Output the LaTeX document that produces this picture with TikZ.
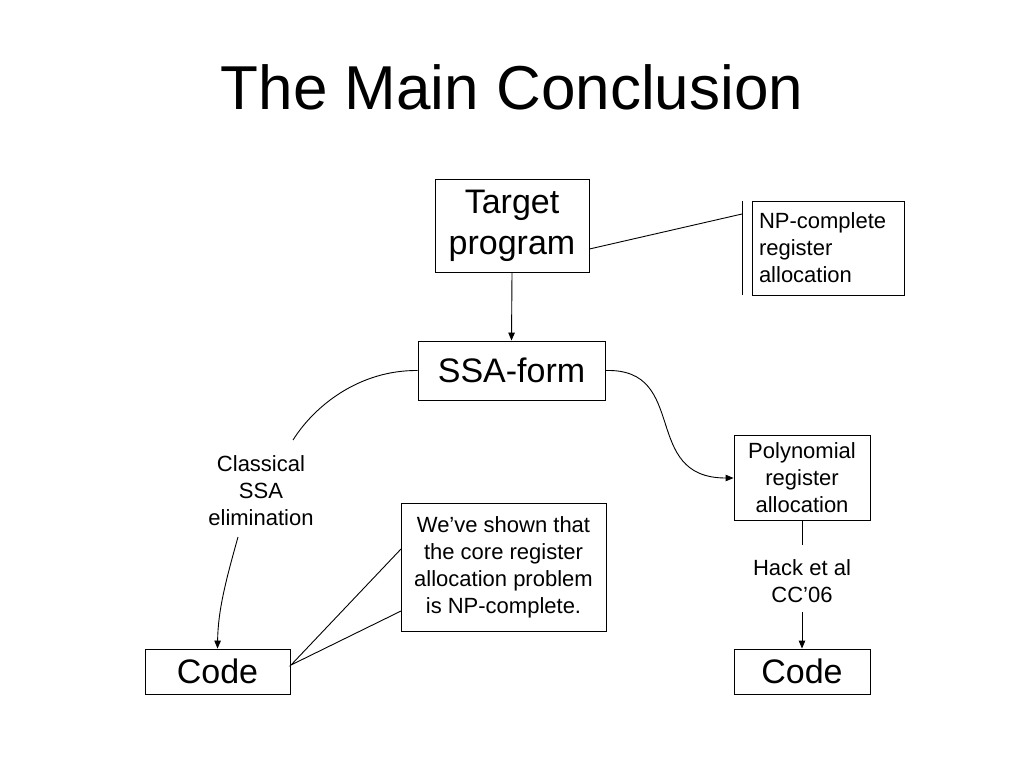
\documentclass[tikz,border=0pt]{standalone}
\usepackage{fontspec}
\setmainfont{Liberation Sans}
\usetikzlibrary{arrows.meta}
\begin{document}
\begin{tikzpicture}[x=1pt,y=-1pt,
  box/.style={draw=black,line width=0.9pt,inner sep=0pt,align=center},
  big/.style={font=\fontsize{34}{40}\selectfont},
  small/.style={font=\fontsize{22}{27}\selectfont},
  conn/.style={line width=0.9pt},
  arr/.style={conn,-{Triangle[length=8pt,width=6.5pt]}}]
\useasboundingbox (0,0) rectangle (1024,768);
\fill[white] (0,0) rectangle (1024,768);
\node[font=\fontsize{62}{70}\selectfont] (title) at (512,87) {The Main Conclusion};
% boxes
\node[box,big,minimum width=154pt,minimum height=93pt] (tp) at (512,225.5) {Target\\[1pt]program};
\node[box,small,align=left,minimum width=152pt,minimum height=94pt,text width=138pt] (np) at (828,248) {NP-complete\\register\\allocation};
\node[box,big,minimum width=187pt,minimum height=59pt] (ssa) at (511.5,370.5) {SSA-form};
\node[box,small,minimum width=136pt,minimum height=85pt] (poly) at (802,478) {Polynomial\\register\\allocation};
\node[box,small,minimum width=205pt,minimum height=128pt] (shown) at (503.5,567) {We’ve shown that\\the core register\\allocation problem\\is NP-complete.};
\node[box,big,minimum width=145pt,minimum height=45pt] (codeL) at (217.5,671.5) {Code};
\node[box,big,minimum width=136pt,minimum height=45pt] (codeR) at (802,671.5) {Code};
% labels
\node[small,align=center] (classical) at (261,491) {Classical\\SSA\\elimination};
\node[small,align=center] (hack) at (802,581) {Hack et al\\CC’06};
% callout bar for NP box
\coordinate (npbarT) at (742,201);
\coordinate (npbarB) at (742,295);
\draw[conn] (npbarT) -- (npbarB);
\coordinate (npbarM) at (742,214);
\draw[conn] (tp.east |- 0,249) -- (npbarM);
% arrows
\draw[arr] (tp.south) -- (ssa.north);
\coordinate (cl1) at (293,440);
\coordinate (cl2) at (238,537);
\draw[conn] (ssa.west) .. controls (360,370) and (315,405) .. (cl1);
\draw[arr] (cl2) .. controls (226,580) and (218,610) .. (codeL.north);
\draw[arr] (ssa.east) .. controls (690,368) and (640,478) .. (poly.west);
\coordinate (hk1) at (802,545);
\coordinate (hk2) at (802,612);
\draw[conn] (poly.south) -- (hk1);
\draw[arr] (hk2) -- (codeR.north);
% callout for shown box
\coordinate (sh1) at (401,549);
\coordinate (sh2) at (401,611);
\coordinate (cr) at (291,665);
\draw[conn] (sh1) -- (cr) -- (sh2);
\end{tikzpicture}
\end{document}
